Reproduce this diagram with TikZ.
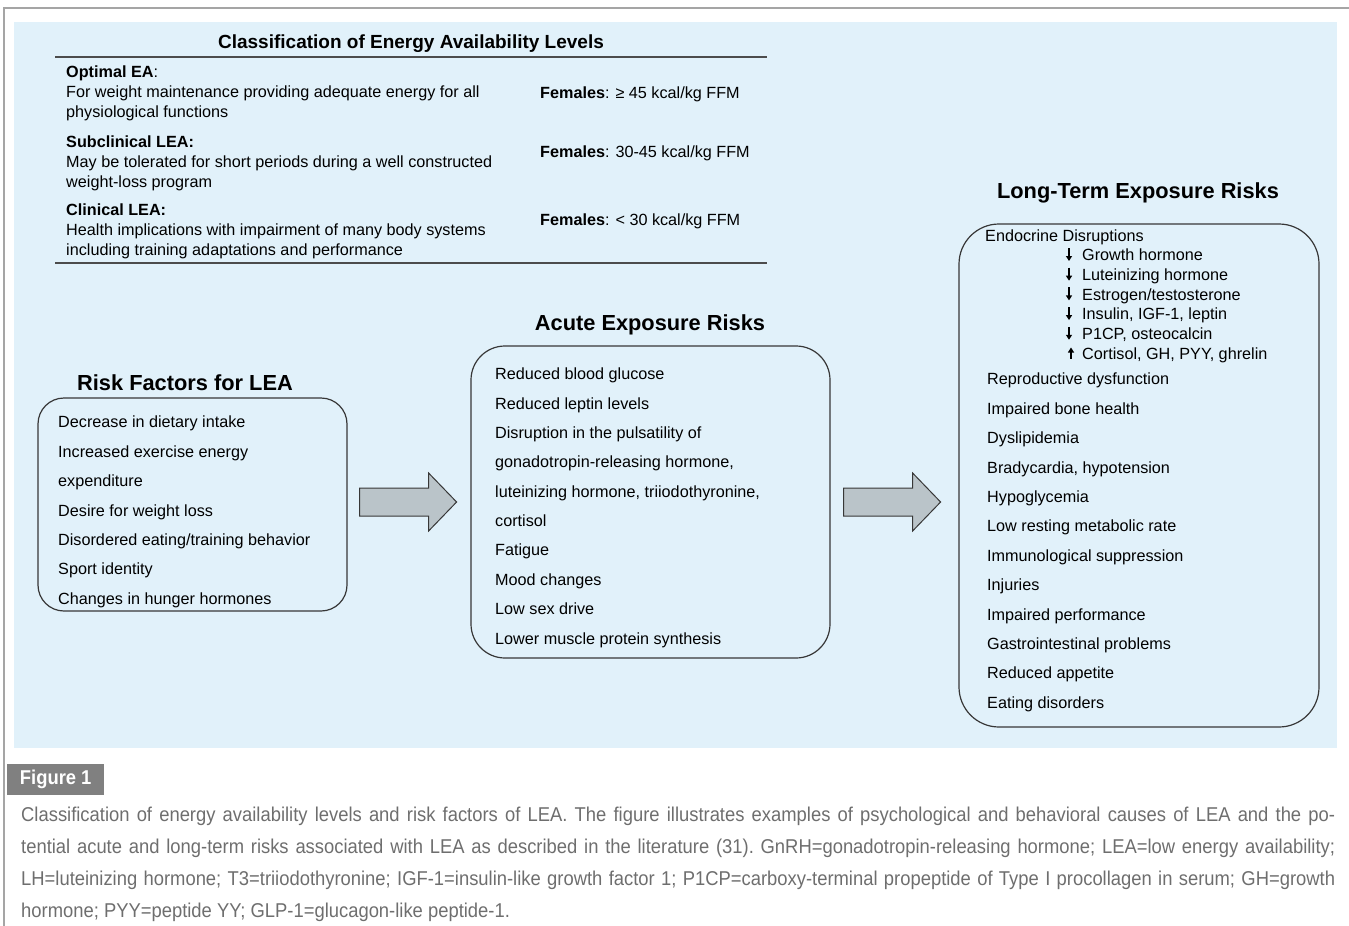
\documentclass[tikz,border=0pt]{standalone}
\usepackage{fontspec}
\setmainfont{Liberation Sans}
\newfontfamily\capfont[FakeStretch=0.92]{Liberation Sans}
\usetikzlibrary{calc,positioning,arrows.meta}
\definecolor{panel blue}{RGB}{225,241,250}
\definecolor{arrow grey}{RGB}{186,196,201}
\definecolor{box edge}{RGB}{55,55,55}
\definecolor{caption grey}{RGB}{110,110,110}
\definecolor{frame grey}{RGB}{165,165,165}
\definecolor{label grey}{RGB}{128,128,128}
\tikzset{riskbox/.style={draw=box edge, line width=1.2pt, inner sep=0pt},
    boxtitle/.style={font=\bfseries\fontsize{21.8}{25}\selectfont, inner sep=0pt, text height=15.6pt, text depth=0pt},
    item/.style={anchor=west, font=\fontsize{16.2}{19}\selectfont, inner sep=0pt, text height=11.7pt, text depth=0pt},
    rowtext/.style={anchor=north west, align=left, inner sep=0pt, font=\fontsize{16.2}{19.8}\selectfont},
    levelarrow/.style={line width=1.2pt, -{Triangle[length=5pt,width=6pt]}},
    blockarrow/.style={fill=arrow grey, draw=box edge, line width=1pt, line join=miter}}
\newcommand{\bigarrow}[1]{%
    \draw[blockarrow] (#1) ++(0,-14) -- ++(69,0) -- ++(0,-15) -- ++(28,29)
        -- ++(-28,29) -- ++(0,-15) -- ++(-69,0) -- cycle;}

\begin{document}
\begin{tikzpicture}[x=1pt,y=-1pt]
    \useasboundingbox (0,0) rectangle (1349,926);
    % frame and panel
    \draw[frame grey, line width=2pt] (4,926) -- (4,8) -- (1349,8);
    \fill[panel blue] (14,22) rectangle (1337,748);
    %
    % classification table
    \node[boxtitle, font=\bfseries\fontsize{19}{22}\selectfont, text height=13.6pt] (classtitle) at (411,42) {Classification of Energy Availability Levels};
    \draw[black!70, line width=1.6pt] (55,57) -- (767,57);
    \draw[black!70, line width=1.6pt] (55,263) -- (767,263);
    \node[rowtext] (optimal) at (66,65.5) {\textbf{Optimal EA}:\\For weight maintenance providing adequate energy for all\\physiological functions};
    \node[rowtext] (subclin) at (66,135.5) {\textbf{Subclinical LEA:}\\May be tolerated for short periods during a well constructed\\weight-loss program};
    \node[rowtext] (clin) at (66,203.5) {\textbf{Clinical LEA:}\\Health implications with impairment of many body systems\\including training adaptations and performance};
    \node[item] (optval) at (540,93) {\textbf{Females}: ≥ 45 kcal/kg FFM};
    \node[item] (subval) at (540,152) {\textbf{Females}: 30-45 kcal/kg FFM};
    \node[item] (clinval) at (540,220) {\textbf{Females}: < 30 kcal/kg FFM};
    %
    % risk factors
    \node[riskbox, rounded corners=26pt, minimum width=309pt, minimum height=213pt] (risk) at (192.5,504.5) {};
    \node[boxtitle] (risktitle) at (185,383) {Risk Factors for LEA};
    \foreach \txt [count=\i] in {Decrease in dietary intake, Increased exercise energy, expenditure,
        Desire for weight loss, Disordered eating/training behavior, Sport identity, Changes in hunger hormones}
        \node[item] (rf\i) at ({58},{422+29.4*(\i-1)}) {\txt};
    %
    % acute exposure risks
    \node[riskbox, rounded corners=34pt, minimum width=359pt, minimum height=312pt] (acute) at (650.5,502) {};
    \node[boxtitle] (acutetitle) at (650,323) {Acute Exposure Risks};
    \foreach \txt [count=\i] in {Reduced blood glucose, Reduced leptin levels, Disruption in the pulsatility of,
        {gonadotropin-releasing hormone,}, {luteinizing hormone, triiodothyronine,}, cortisol,
        Fatigue, Mood changes, Low sex drive, Lower muscle protein synthesis}
        \node[item] (ac\i) at ({495},{374+29.35*(\i-1)}) {\txt};
    %
    % long-term exposure risks
    \node[riskbox, rounded corners=40pt, minimum width=360pt, minimum height=503pt] (long) at (1139,475.5) {};
    \node[boxtitle] (longtitle) at (1138,191) {Long-Term Exposure Risks};
    \node[item] (endo) at (985,236) {Endocrine Disruptions};
    \foreach \txt [count=\i] in {Growth hormone, Luteinizing hormone, {Estrogen/testosterone},
        {Insulin, IGF-1, leptin}, {P1CP, osteocalcin}}
    {
        \node[item] (endo\i) at ({1082},{255+19.7*(\i-1)}) {\txt};
        \draw[levelarrow] ($(endo\i.west)+(-13,-7)$) -- ($(endo\i.west)+(-13,6)$);
    }
    \node[item] (endo6) at ({1082},{255+19.7*5}) {Cortisol, GH, PYY, ghrelin};
    \draw[levelarrow] ($(endo6.west)+(-11,5)$) -- ($(endo6.west)+(-11,-6)$);
    \foreach \txt [count=\i] in {Reproductive dysfunction, Impaired bone health, Dyslipidemia,
        {Bradycardia, hypotension}, Hypoglycemia, Low resting metabolic rate, Immunological suppression,
        Injuries, Impaired performance, Gastrointestinal problems, Reduced appetite, Eating disorders}
        \node[item] (lt\i) at ({987},{379+29.4*(\i-1)}) {\txt};
    %
    % block arrows
    \path (risk.east |- acute.west) ++(12,0) coordinate (arrstart1);
    \path (acute.east) ++(13,0) coordinate (arrstart2);
    \bigarrow{arrstart1}
    \bigarrow{arrstart2}
    %
    % caption
    \node[fill=label grey, text=white, inner sep=0pt, minimum width=97pt, minimum height=31pt, anchor=north west,
        font=\capfont\bfseries\fontsize{20}{24}\selectfont] (figlabel) at (7,764) {Figure 1};
    \node[anchor=north west, inner sep=0pt, text=caption grey, font=\capfont\fontsize{20}{32}\selectfont] (caption) at (21,807)
        {\parbox[t]{1314pt}{\frenchspacing\baselineskip=32pt
        \makebox[\linewidth][s]{Classification of energy availability levels and risk factors of LEA. The figure illustrates examples of psychological and behavioral causes of LEA and the po-}\\
        \makebox[\linewidth][s]{tential acute and long-term risks associated with LEA as described in the literature (31). GnRH=gonadotropin-releasing hormone; LEA=low energy availability;}\\
        \makebox[\linewidth][s]{LH=luteinizing hormone; T3=triiodothyronine; IGF-1=insulin-like growth factor 1; P1CP=carboxy-terminal propeptide of Type I procollagen in serum; GH=growth}\\
        hormone; PYY=peptide YY; GLP-1=glucagon-like peptide-1.}};
\end{tikzpicture}
\end{document}
